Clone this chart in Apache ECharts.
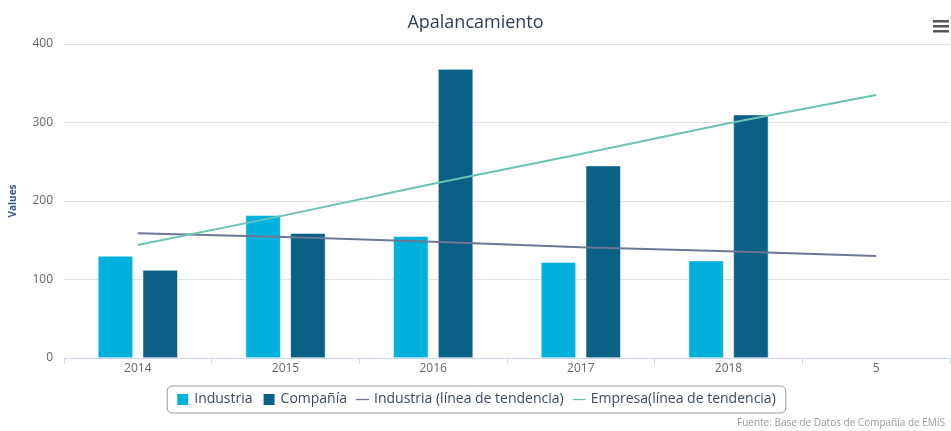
<!DOCTYPE html>
<html>
<head>
<meta charset="utf-8">
<script src="https://cdn.jsdelivr.net/npm/echarts@6/dist/echarts.min.js"></script>
<style>
  html, body { margin: 0; padding: 0; background: #fff; }
  #chart { width: 951px; height: 431px; }
</style>
</head>
<body>
<div id="chart"></div>
<script>
// Categories along the x axis
const categories = ['2014', '2015', '2016', '2017', '2018', '5'];

// Bar values
const industria = [130, 182, 155, 122, 124, null];
const compania = [112, 159, 368, 245, 310, null];

// Trend lines
const industriaTrend = [159, 154, 148, 141, 136, 130];
const empresaTrend = [144, 182, 222, 260, 299, 335];

// Y axis ticks
const yTicks = [0, 100, 200, 300, 400];

const FONT = '"Open Sans", "DejaVu Sans", sans-serif';

const chart = echarts.init(document.getElementById('chart'), null, { renderer: 'canvas' });

const lineIcon = 'path://M0,6 L16,6 L16,7.6 L0,7.6 Z';

chart.setOption({
  animation: false,
  backgroundColor: '#ffffff',
  textStyle: { fontFamily: FONT },
  title: {
    text: 'Apalancamiento',
    left: 'center',
    top: 9,
    textStyle: { fontFamily: FONT, fontSize: 18, fontWeight: 'normal', color: '#2e3e55' }
  },
  grid: { left: 63, right: 1, top: 44, bottom: 73, containLabel: false },
  legend: {
    left: 'center',
    top: 386,
    height: 16,
    padding: [6, 10, 6, 8],
    borderColor: '#9a9a9a',
    borderWidth: 1,
    borderRadius: 5,
    itemWidth: 13,
    itemHeight: 13,
    itemGap: 9,
    textStyle: { fontFamily: FONT, fontSize: 14, color: '#3b4a60' },
    data: [
      { name: 'Industria', icon: 'rect' },
      { name: 'Compañía', icon: 'rect' },
      { name: 'Industria (línea de tendencia)', icon: lineIcon },
      { name: 'Empresa(línea de tendencia)', icon: lineIcon }
    ]
  },
  xAxis: {
    type: 'category',
    data: categories,
    axisLine: { lineStyle: { color: '#ccd6eb', width: 1 } },
    axisTick: { show: true, alignWithLabel: false, length: 6, lineStyle: { color: '#ccd6eb' } },
    axisLabel: { fontFamily: FONT, fontSize: 12, color: '#666666', margin: 5 }
  },
  yAxis: {
    type: 'value',
    min: yTicks[0],
    max: yTicks[yTicks.length - 1],
    interval: 100,
    name: 'Values',
    nameLocation: 'middle',
    nameGap: 46,
    nameTextStyle: { fontFamily: FONT, fontSize: 10, fontWeight: 'bold', color: '#2d5a8c' },
    axisLine: { show: false },
    axisTick: { show: false },
    axisLabel: { fontFamily: FONT, fontSize: 12, color: '#666666', margin: 11 },
    splitLine: { lineStyle: { color: '#e0e0e0', width: 1 } }
  },
  series: [
    {
      name: 'Industria',
      type: 'bar',
      data: industria,
      barWidth: 35,
      barGap: '28%',
      itemStyle: { color: '#00b1de', borderColor: '#ffffff', borderWidth: 0.5 }
    },
    {
      name: 'Compañía',
      type: 'bar',
      data: compania,
      barWidth: 35,
      barGap: '28%',
      itemStyle: { color: '#0b6086', borderColor: '#ffffff', borderWidth: 0.5 }
    },
    {
      name: 'Industria (línea de tendencia)',
      type: 'line',
      data: industriaTrend,
      symbol: 'none',
      lineStyle: { color: '#6a7896', width: 2 },
      itemStyle: { color: '#6a7896' }
    },
    {
      name: 'Empresa(línea de tendencia)',
      type: 'line',
      data: empresaTrend,
      symbol: 'none',
      lineStyle: { color: '#6ac3b3', width: 2 },
      itemStyle: { color: '#6ac3b3' }
    }
  ],
  graphic: [
    // context menu icon
    { type: 'rect', left: 933, top: 20, shape: { width: 16, height: 2.5 }, style: { fill: '#555' } },
    { type: 'rect', left: 933, top: 25, shape: { width: 16, height: 2.5 }, style: { fill: '#555' } },
    { type: 'rect', left: 933, top: 30, shape: { width: 16, height: 2.5 }, style: { fill: '#555' } },
    // source credit
    {
      type: 'text',
      left: 737,
      top: 418,
      style: {
        text: 'Fuente: Base de Datos de Compañía de EMIS',
        fontFamily: FONT,
        fontSize: 10,
        fill: '#999999'
      }
    }
  ]
});
</script>
</body>
</html>
